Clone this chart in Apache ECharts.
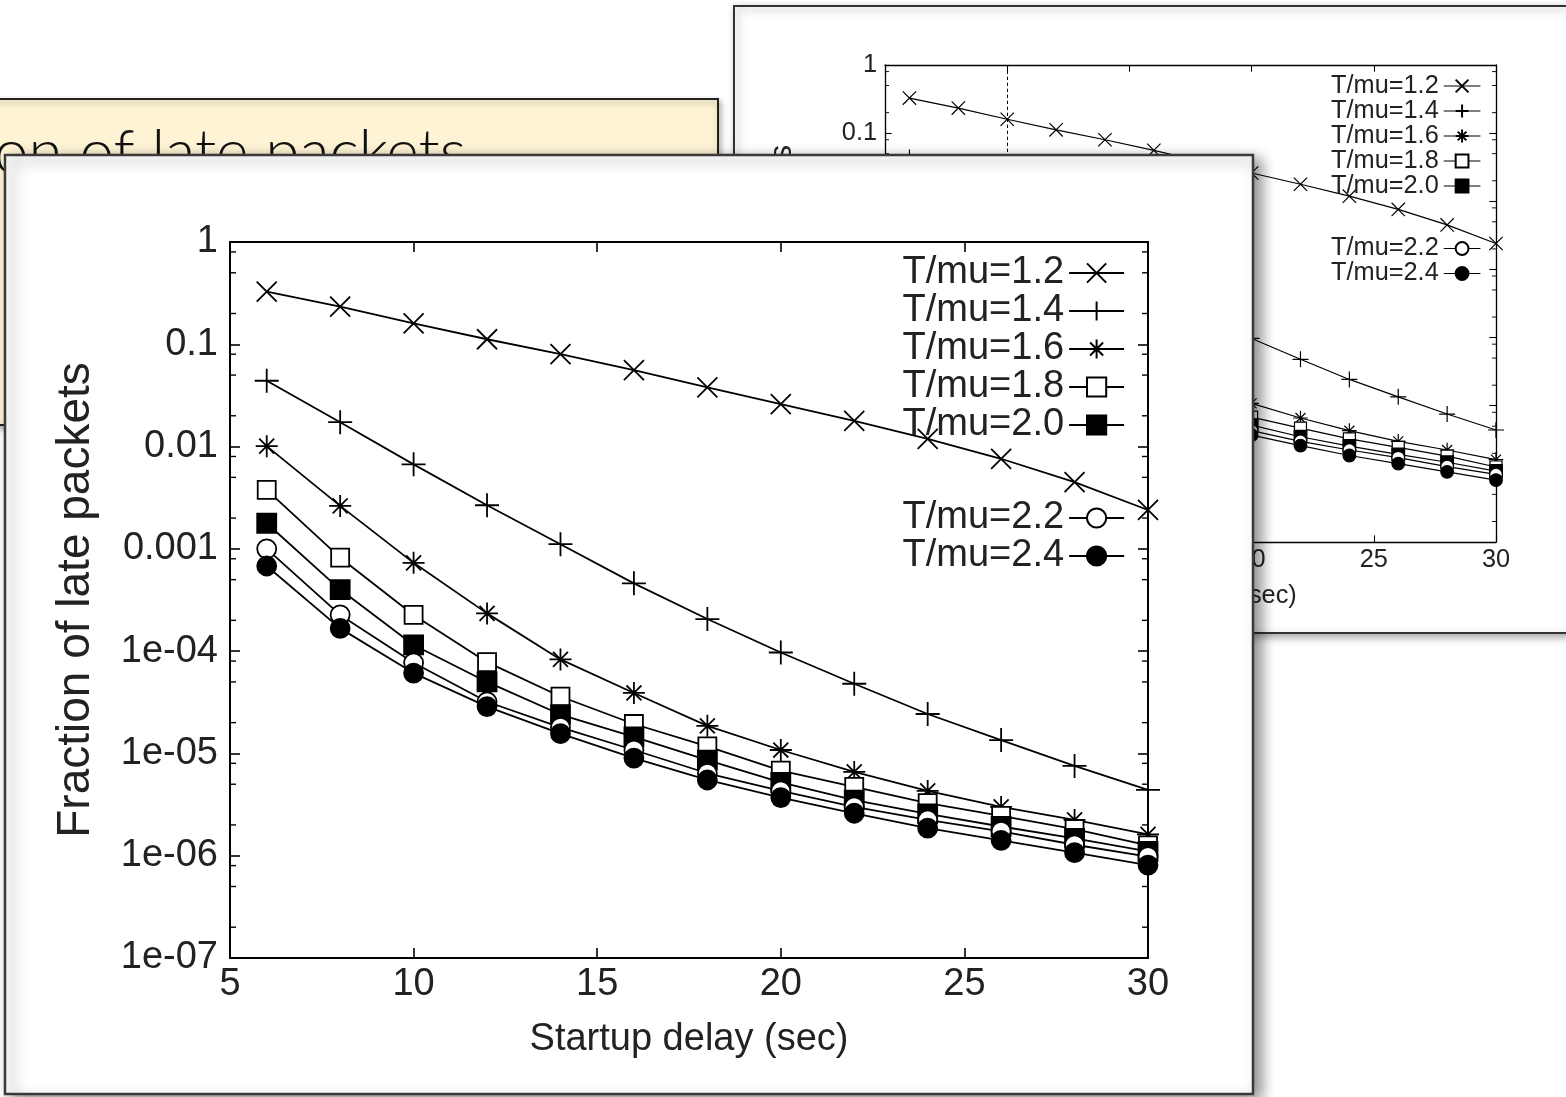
<!DOCTYPE html>
<html><head><meta charset="utf-8">
<script src="https://cdn.jsdelivr.net/npm/echarts@6/dist/echarts.min.js"></script>
<style>html,body{margin:0;padding:0;background:#fff;overflow:hidden}#c{width:1566px;height:1097px}</style>
</head><body><div id="c"></div>
<script>
// ---------------- data ----------------
const xValues = [6, 8, 10, 12, 14, 16, 18, 20, 22, 24, 26, 28, 30];
const seriesNames = ['T/mu=1.2', 'T/mu=1.4', 'T/mu=1.6', 'T/mu=1.8', 'T/mu=2.0', 'T/mu=2.2', 'T/mu=2.4'];
const s12 = [0.327, 0.233, 0.160, 0.112, 0.080, 0.056, 0.038, 0.026, 0.0178, 0.0119, 0.0076, 0.0045, 0.0024];
const s14 = [0.044, 0.0173, 0.0067, 0.00267, 0.00111, 0.00046, 0.000206, 9.7e-5, 4.8e-5, 2.43e-5, 1.35e-5, 7.55e-6, 4.4e-6];
const s16 = [0.0101, 0.00263, 0.00073, 0.000234, 8.3e-5, 3.9e-5, 1.86e-5, 1.08e-5, 6.6e-6, 4.3e-6, 3.0e-6, 2.24e-6, 1.62e-6];
const s18 = [0.00377, 0.00082, 0.000226, 7.8e-5, 3.6e-5, 1.94e-5, 1.17e-5, 6.8e-6, 4.7e-6, 3.26e-6, 2.45e-6, 1.82e-6, 1.26e-6];
const s20 = [0.00178, 0.0004, 0.000115, 5.0e-5, 2.4e-5, 1.45e-5, 8.6e-6, 5.2e-6, 3.5e-6, 2.56e-6, 1.93e-6, 1.48e-6, 1.1e-6];
const s22 = [0.001, 0.000226, 7.7e-5, 3.2e-5, 1.8e-5, 1.08e-5, 6.4e-6, 4.3e-6, 3.0e-6, 2.24e-6, 1.73e-6, 1.28e-6, 9.8e-7];
const s24 = [0.00068, 0.000167, 6.1e-5, 2.87e-5, 1.56e-5, 9.0e-6, 5.5e-6, 3.7e-6, 2.6e-6, 1.86e-6, 1.41e-6, 1.07e-6, 8.1e-7];
const xTickLabels = ['5', '10', '15', '20', '25', '30'];
const yTickLabels = ['1e-07', '1e-06', '1e-05', '1e-04', '0.001', '0.01', '0.1', '1'];
const minorMultipliers = [2, 5, 8];
const refX = 10;
const refY = 1e-4;
const xAxisTitle = 'Startup delay (sec)';
const yAxisTitle = 'Fraction of late packets';
const slideTitle = 'Fraction of late packets';

// ---------------- helpers ----------------
const seriesData = [s12, s14, s16, s18, s20, s22, s24];
const SYM = {
  x: 'path://M0,0L10,10M10,0L0,10',
  plus: 'path://M5,0L5,10M0,5L10,5',
  star: 'path://M5,0L5,10M0,5L10,5M1.6,1.6L8.4,8.4M8.4,1.6L1.6,8.4'
};
const markers = [
  { symbol: SYM.x, size: 20, fill: '#000' },
  { symbol: SYM.plus, size: 24, fill: '#000' },
  { symbol: SYM.star, size: 22, fill: '#000' },
  { symbol: 'rect', size: 18, fill: '#fff' },
  { symbol: 'rect', size: 19, fill: '#000' },
  { symbol: 'circle', size: 19, fill: '#fff' },
  { symbol: 'circle', size: 19, fill: '#000' }
];
const FONT = 'Liberation Sans, Arial, Helvetica, sans-serif';
const TXT = '#222';
const xMin = 5, xMax = 30;
const minorVals = [];
for (let e = -7; e < 0; e++) minorMultipliers.forEach(m => minorVals.push([xMin, m * Math.pow(10, e)]));

function yFmt(v) { const e = Math.round(Math.log10(v)); return yTickLabels[e + 7]; }
function xFmt(v) { return xTickLabels[Math.round((v - xMin) / 5)]; }

function buildAxes(gi, k, zl) {
  const line = { show: true, onZero: false, lineStyle: { color: '#000', width: 2 * k } };
  const tick = { show: true, inside: true, length: 10 * k, lineStyle: { color: '#000', width: 1.6 * k } };
  const lbl = { color: TXT, fontSize: 38 * k, fontFamily: FONT };
  const xa = [
    { gridIndex: gi, type: 'value', min: xMin, max: xMax, interval: 5, position: 'bottom', zlevel: zl,
      axisLine: line, axisTick: tick, splitLine: { show: false },
      axisLabel: Object.assign({ formatter: xFmt, margin: 8 * k }, lbl),
      name: xAxisTitle, nameLocation: 'middle', nameGap: 63 * k,
      nameTextStyle: { color: TXT, fontSize: 38 * k, fontFamily: FONT } },
    { gridIndex: gi, type: 'value', min: xMin, max: xMax, interval: 5, position: 'top', zlevel: zl,
      axisLine: line, axisTick: tick, splitLine: { show: false }, axisLabel: { show: false } }
  ];
  const ya = [
    { gridIndex: gi, type: 'log', logBase: 10, min: 1e-7, max: 1, splitNumber: 7, position: 'left', zlevel: zl,
      axisLine: line, axisTick: tick, splitLine: { show: false }, minorTick: { show: false },
      axisLabel: Object.assign({ formatter: yFmt, margin: 12 * k }, lbl),
      name: yAxisTitle, nameLocation: 'middle', nameGap: 131 * k, nameRotate: 90,
      nameTextStyle: { color: TXT, fontSize: 46 * k, fontFamily: FONT } },
    { gridIndex: gi, type: 'log', logBase: 10, min: 1e-7, max: 1, splitNumber: 7, position: 'right', zlevel: zl,
      axisLine: line, axisTick: tick, splitLine: { show: false }, axisLabel: { show: false } }
  ];
  return { xa, ya };
}

function buildSeries(prefix, xi, yi, k, zl) {
  const out = seriesData.map((arr, i) => ({
    type: 'line', name: prefix + seriesNames[i], xAxisIndex: xi, yAxisIndex: yi, zlevel: zl, z: 3 + i,
    data: xValues.map((x, j) => [x, arr[j]]),
    symbol: markers[i].symbol, symbolSize: markers[i].size * k,
    showAllSymbol: true, clip: false, animation: false, silent: true,
    lineStyle: { color: '#000', width: 1.8 * k },
    itemStyle: { color: markers[i].fill, borderColor: '#000', borderWidth: 1.8 * k },
    emphasis: { disabled: true },
    markLine: i === 0 ? {
      silent: true, symbol: ['none', 'none'], label: { show: false }, animation: false,
      lineStyle: { type: [5 * k, 4 * k], color: '#000', width: 1.5 * k },
      emphasis: { disabled: true },
      data: [{ xAxis: refX }, { yAxis: refY }]
    } : undefined
  }));
  out.push({
    type: 'custom', xAxisIndex: xi, yAxisIndex: yi, zlevel: zl, z: 2, silent: true, animation: false,
    data: minorVals,
    renderItem: function (params, api) {
      const v = api.value(1);
      const a = api.coord([xMin, v]);
      const b = api.coord([xMax, v]);
      const len = 6 * k, lw = 1.4 * k;
      return { type: 'group', children: [
        { type: 'line', shape: { x1: a[0], y1: a[1], x2: a[0] + len, y2: a[1] }, style: { stroke: '#000', lineWidth: lw } },
        { type: 'line', shape: { x1: b[0], y1: b[1], x2: b[0] - len, y2: b[1] }, style: { stroke: '#000', lineWidth: lw } }
      ] };
    }
  });
  return out;
}

function buildLegends(prefix, k, zl, right, top1, top2, rowH) {
  const base = {
    orient: 'vertical', align: 'right', right: right, padding: 0, itemGap: 0,
    itemWidth: 55 * k, itemHeight: 24 * k, selectedMode: false, zlevel: zl, z: 20,
    formatter: n => n.replace(prefix, ''),
    lineStyle: { color: '#000', width: 1.8 * k },
    textStyle: { color: TXT, fontSize: 38 * k, fontFamily: FONT, lineHeight: rowH }
  };
  return [
    Object.assign({ top: top1, data: seriesNames.slice(0, 5).map(n => prefix + n) }, base),
    Object.assign({ top: top2, data: seriesNames.slice(5).map(n => prefix + n) }, base)
  ];
}

// ---------------- layout ----------------
const kB = 2 / 3;
const bgAx = buildAxes(0, kB, 1);
const mAx = buildAxes(1, 1, 4);

const option = {
  backgroundColor: '#fff',
  animation: false,
  grid: [
    { left: 885, top: 65, width: 611, height: 477, zlevel: 1 },
    { left: 230, top: 242, width: 918, height: 716, zlevel: 4 }
  ],
  xAxis: bgAx.xa.concat(mAx.xa),
  yAxis: bgAx.ya.concat(mAx.ya),
  legend: buildLegends('bg:', kB, 1, 85, 73.5, 236, 24).concat(buildLegends('', 1, 4, 441, 254, 499, 35.3)),
  series: buildSeries('bg:', 0, 0, kB, 1).concat(buildSeries('', 2, 2, 1, 4)),
  graphic: [
    // background slide panel
    { type: 'rect', zlevel: 0, silent: true,
      shape: { x: 734, y: 6, width: 900, height: 627 },
      style: { fill: '#fff', stroke: '#333', lineWidth: 2, shadowBlur: 8, shadowOffsetX: 3, shadowOffsetY: 3, shadowColor: 'rgba(0,0,0,0.35)' } },
    // yellow text box
    { type: 'rect', zlevel: 2, silent: true,
      shape: { x: -20, y: 99, width: 738, height: 326 },
      style: { fill: '#fef4d5', stroke: '#222', lineWidth: 2, shadowBlur: 6, shadowOffsetX: 2, shadowOffsetY: 3, shadowColor: 'rgba(0,0,0,0.3)' } },
    { type: 'text', zlevel: 2, silent: true,
      style: { text: slideTitle, x: 466, y: 153, textAlign: 'right', textVerticalAlign: 'middle',
        font: '300 62px Lato, "Open Sans", sans-serif', fill: '#111' } },
    // main slide panel
    { type: 'rect', zlevel: 3, silent: true,
      shape: { x: 5, y: 155, width: 1248, height: 939 },
      style: { fill: '#fff', stroke: '#3a3a3a', lineWidth: 2.5, shadowBlur: 14, shadowOffsetX: 7, shadowOffsetY: 5, shadowColor: 'rgba(0,0,0,0.45)' } }
  ]
};

const chart = echarts.init(document.getElementById('c'), null, { renderer: 'canvas' });
chart.setOption(option);
</script>
</body></html>
